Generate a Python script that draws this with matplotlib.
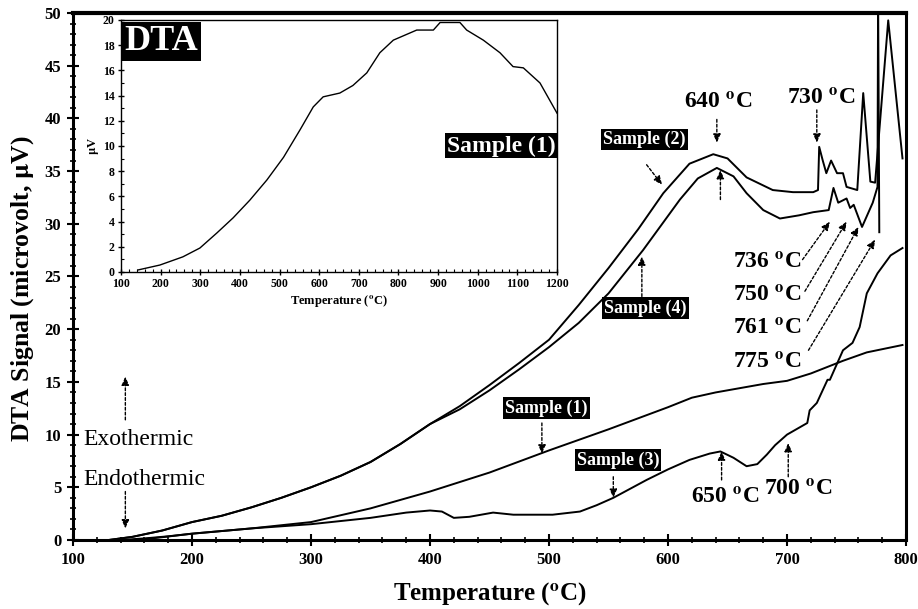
import matplotlib
matplotlib.use("Agg")
import matplotlib.pyplot as plt
from matplotlib.ticker import MultipleLocator

plt.rcParams['font.family'] = ['Liberation Serif', 'DejaVu Serif']
plt.rcParams['mathtext.fontset'] = 'stix'

# ---------------- data ----------------
s1_T = [140, 160, 180, 200, 250, 300, 350, 400, 450, 500, 550, 600, 620, 640, 660, 680, 700, 720, 747, 767, 797]
s1_V = [0.0, 0.15, 0.35, 0.6, 1.1, 1.7, 3.0, 4.6, 6.4, 8.5, 10.5, 12.6, 13.5, 14.0, 14.4, 14.8, 15.1, 15.8, 17.0, 17.8, 18.5]

s2_T = [130, 150, 175, 200, 225, 250, 275, 300, 325, 350, 375, 400, 425, 450, 475, 500, 525, 550, 575, 596,
        618, 638, 650, 666, 688, 705, 722, 726, 727, 730, 733, 737, 742, 747, 750, 759, 764, 770, 774, 785, 797]
s2_V = [0.0, 0.3, 0.9, 1.7, 2.3, 3.1, 4.0, 5.0, 6.1, 7.4, 9.1, 11.0, 12.7, 14.7, 16.8, 19.0, 22.3, 25.8, 29.5, 32.9,
        35.7, 36.6, 36.2, 34.4, 33.2, 33.0, 33.0, 33.2, 37.3, 36.0, 34.8, 36.0, 34.8, 34.8, 33.5, 33.2, 42.4, 34.0, 33.9, 49.3, 36.2]

s3_T = [150, 170, 200, 250, 300, 350, 380, 400, 410, 420, 433, 453, 470, 487, 503, 526, 540, 554, 582, 600, 618,
        635, 644, 655, 666, 675, 683, 690, 700, 717, 719, 725, 734, 736, 747, 755, 761, 767, 776, 787, 797]
s3_V = [0.0, 0.2, 0.6, 1.1, 1.5, 2.1, 2.6, 2.8, 2.7, 2.1, 2.2, 2.6, 2.4, 2.4, 2.4, 2.7, 3.3, 4.0, 5.7, 6.7, 7.6,
        8.2, 8.4, 7.8, 7.0, 7.2, 8.1, 9.0, 10.0, 11.1, 12.3, 13.0, 15.2, 15.2, 18.0, 18.7, 20.2, 23.4, 25.3, 27.0, 27.7]

s4_T = [130, 150, 175, 200, 225, 250, 275, 300, 325, 350, 375, 400, 425, 450, 475, 500, 525, 550, 579, 610,
        625, 641, 655, 666, 680, 694, 710, 722, 735, 739, 743, 750, 753, 756, 763, 772, 776, 776.5, 777.5]
s4_V = [0.0, 0.3, 0.9, 1.7, 2.3, 3.1, 4.0, 5.0, 6.1, 7.4, 9.1, 11.0, 12.4, 14.2, 16.2, 18.3, 20.6, 23.4, 27.5, 32.3,
        34.3, 35.3, 34.5, 32.9, 31.3, 30.5, 30.8, 31.1, 31.3, 33.4, 32.0, 32.4, 31.5, 31.8, 29.7, 32.0, 33.5, 52.0, 29.2]

inset_T = [143, 198, 256, 299, 342, 383, 425, 468, 510, 552, 585, 610, 652, 685, 720, 753, 787, 846, 888, 905,
           955, 972, 1014, 1056, 1089, 1115, 1157, 1200]
inset_V = [0.16, 0.55, 1.2, 1.9, 3.1, 4.3, 5.7, 7.3, 9.1, 11.3, 13.1, 13.9, 14.2, 14.8, 15.8, 17.4, 18.4, 19.2, 19.2, 19.8,
           19.8, 19.2, 18.4, 17.4, 16.3, 16.2, 15.0, 12.6]

x_ticks = [100, 200, 300, 400, 500, 600, 700, 800]
y_ticks = [0, 5, 10, 15, 20, 25, 30, 35, 40, 45, 50]
inset_x_ticks = [100, 200, 300, 400, 500, 600, 700, 800, 900, 1000, 1100, 1200]
inset_y_ticks = [0, 2, 4, 6, 8, 10, 12, 14, 16, 18, 20]

DEG = r'$^{\mathbf{o}}$'

fig = plt.figure(figsize=(9.18, 6.09), dpi=100)
ax = fig.add_axes([0.0795, 0.1133, 0.9075, 0.8654])

for T, V in [(s1_T, s1_V), (s2_T, s2_V), (s3_T, s3_V), (s4_T, s4_V)]:
    ax.plot(T, V, color='black', lw=1.4)

ax.set_xlim(100, 800)
ax.set_ylim(0, 50)
ax.set_xticks(x_ticks)
ax.set_yticks(y_ticks)
ax.xaxis.set_minor_locator(MultipleLocator(20))
ax.yaxis.set_minor_locator(MultipleLocator(1))
ax.tick_params(which='major', direction='inout', length=9, width=1.5, labelsize=12, pad=4)
ax.tick_params(which='minor', direction='inout', length=4, width=1.2)
for lab in ax.get_xticklabels() + ax.get_yticklabels():
    lab.set_fontweight('bold')
for sp in ax.spines.values():
    sp.set_linewidth(2.2)
ax.spines['top'].set_linewidth(3)

ax.set_xlabel('Temperature (' + DEG + 'C)', fontsize=18, fontweight='bold', labelpad=9)
ax.set_ylabel(r'DTA Signal (microvolt, $\mathbf{\mu}$V)', fontsize=18.5, fontweight='bold')
ax.yaxis.set_label_coords(-0.044, 0.478)

box = dict(boxstyle='square,pad=0.12', fc='black', ec='none')
lab_kw = dict(color='white', fontsize=13, fontweight='bold', ha='center', va='center', bbox=box)
ax.text(580, 38.0, 'Sample (2)', **lab_kw)
ax.text(581, 22.0, 'Sample (4)', **lab_kw)
ax.text(498, 12.5, 'Sample (1)', **lab_kw)
ax.text(558, 7.6, 'Sample (3)', **lab_kw)

arr = dict(arrowstyle='-|>,head_length=0.5,head_width=0.22', color='black', lw=1.0,
           linestyle=(0, (2, 1.5)), shrinkA=0, shrinkB=0)

def arrow(start, tip):
    ax.annotate('', xy=tip, xytext=start, arrowprops=arr)

arrow((582, 35.6), (595, 33.7))
arrow((578, 23.1), (578, 26.9))
arrow((494, 11.1), (494, 8.2))
arrow((554, 6.0), (554, 4.0))

t_kw = dict(fontsize=17, fontweight='bold', ha='center', va='center')
ax.text(642, 41.4, '640 ' + DEG + 'C', **t_kw)
arrow((641, 39.9), (641, 37.7))
arrow((644, 32.3), (644, 35.1))
ax.text(729, 41.8, '730 ' + DEG + 'C', **t_kw)
arrow((725, 40.8), (725, 37.7))

ax.text(683, 26.3, '736 ' + DEG + 'C', **t_kw)
arrow((713, 26.6), (736, 30.2))
ax.text(683, 23.1, '750 ' + DEG + 'C', **t_kw)
arrow((715, 23.6), (750, 30.2))
ax.text(683, 20.0, '761 ' + DEG + 'C', **t_kw)
arrow((717, 20.8), (760, 29.7))
ax.text(683, 16.8, '775 ' + DEG + 'C', **t_kw)
arrow((718, 18.0), (774, 28.5))

ax.text(648, 4.0, '650 ' + DEG + 'C', **t_kw)
arrow((645, 5.7), (645, 8.4))
ax.text(709, 4.7, '700 ' + DEG + 'C', **t_kw)
arrow((701, 6.0), (701, 9.2))

ax.text(109, 9.5, 'Exothermic', fontsize=17, ha='left', va='center')
ax.text(109, 5.7, 'Endothermic', fontsize=17, ha='left', va='center')
arrow((144, 11.4), (144, 15.5))
arrow((144, 4.6), (144, 1.1))

# ---------------- inset ----------------
ax2 = fig.add_axes([0.1318, 0.5534, 0.475, 0.4138])
ax2.plot(inset_T, inset_V, color='black', lw=1.0)
ax2.set_xlim(100, 1200)
ax2.set_ylim(0, 20)
ax2.set_xticks(inset_x_ticks)
ax2.set_yticks(inset_y_ticks)
ax2.xaxis.set_minor_locator(MultipleLocator(20))
ax2.yaxis.set_minor_locator(MultipleLocator(1))
ax2.tick_params(which='major', direction='inout', length=5, width=1.0, labelsize=8.5, pad=2)
ax2.tick_params(which='minor', direction='in', length=2.5, width=0.8)
for lab in ax2.get_xticklabels() + ax2.get_yticklabels():
    lab.set_fontweight('bold')
for sp in ax2.spines.values():
    sp.set_linewidth(1.0)
ax2.set_xlabel('Temperature (' + DEG + 'C)', fontsize=9, fontweight='bold', labelpad=2)
ax2.set_ylabel(r'$\mathbf{\mu}$V', fontsize=9, fontweight='bold', labelpad=1)
ax2.text(201, 18.3, 'DTA', color='white', fontsize=26, fontweight='bold', ha='center', va='center',
         bbox=dict(boxstyle='square,pad=0.08', fc='black', ec='none'))
ax2.text(1197, 10.0, 'Sample (1)', color='white', fontsize=17, fontweight='bold', ha='right', va='center',
         bbox=dict(boxstyle='square,pad=0.08', fc='black', ec='none'))

fig.savefig('out.png', dpi=100)
